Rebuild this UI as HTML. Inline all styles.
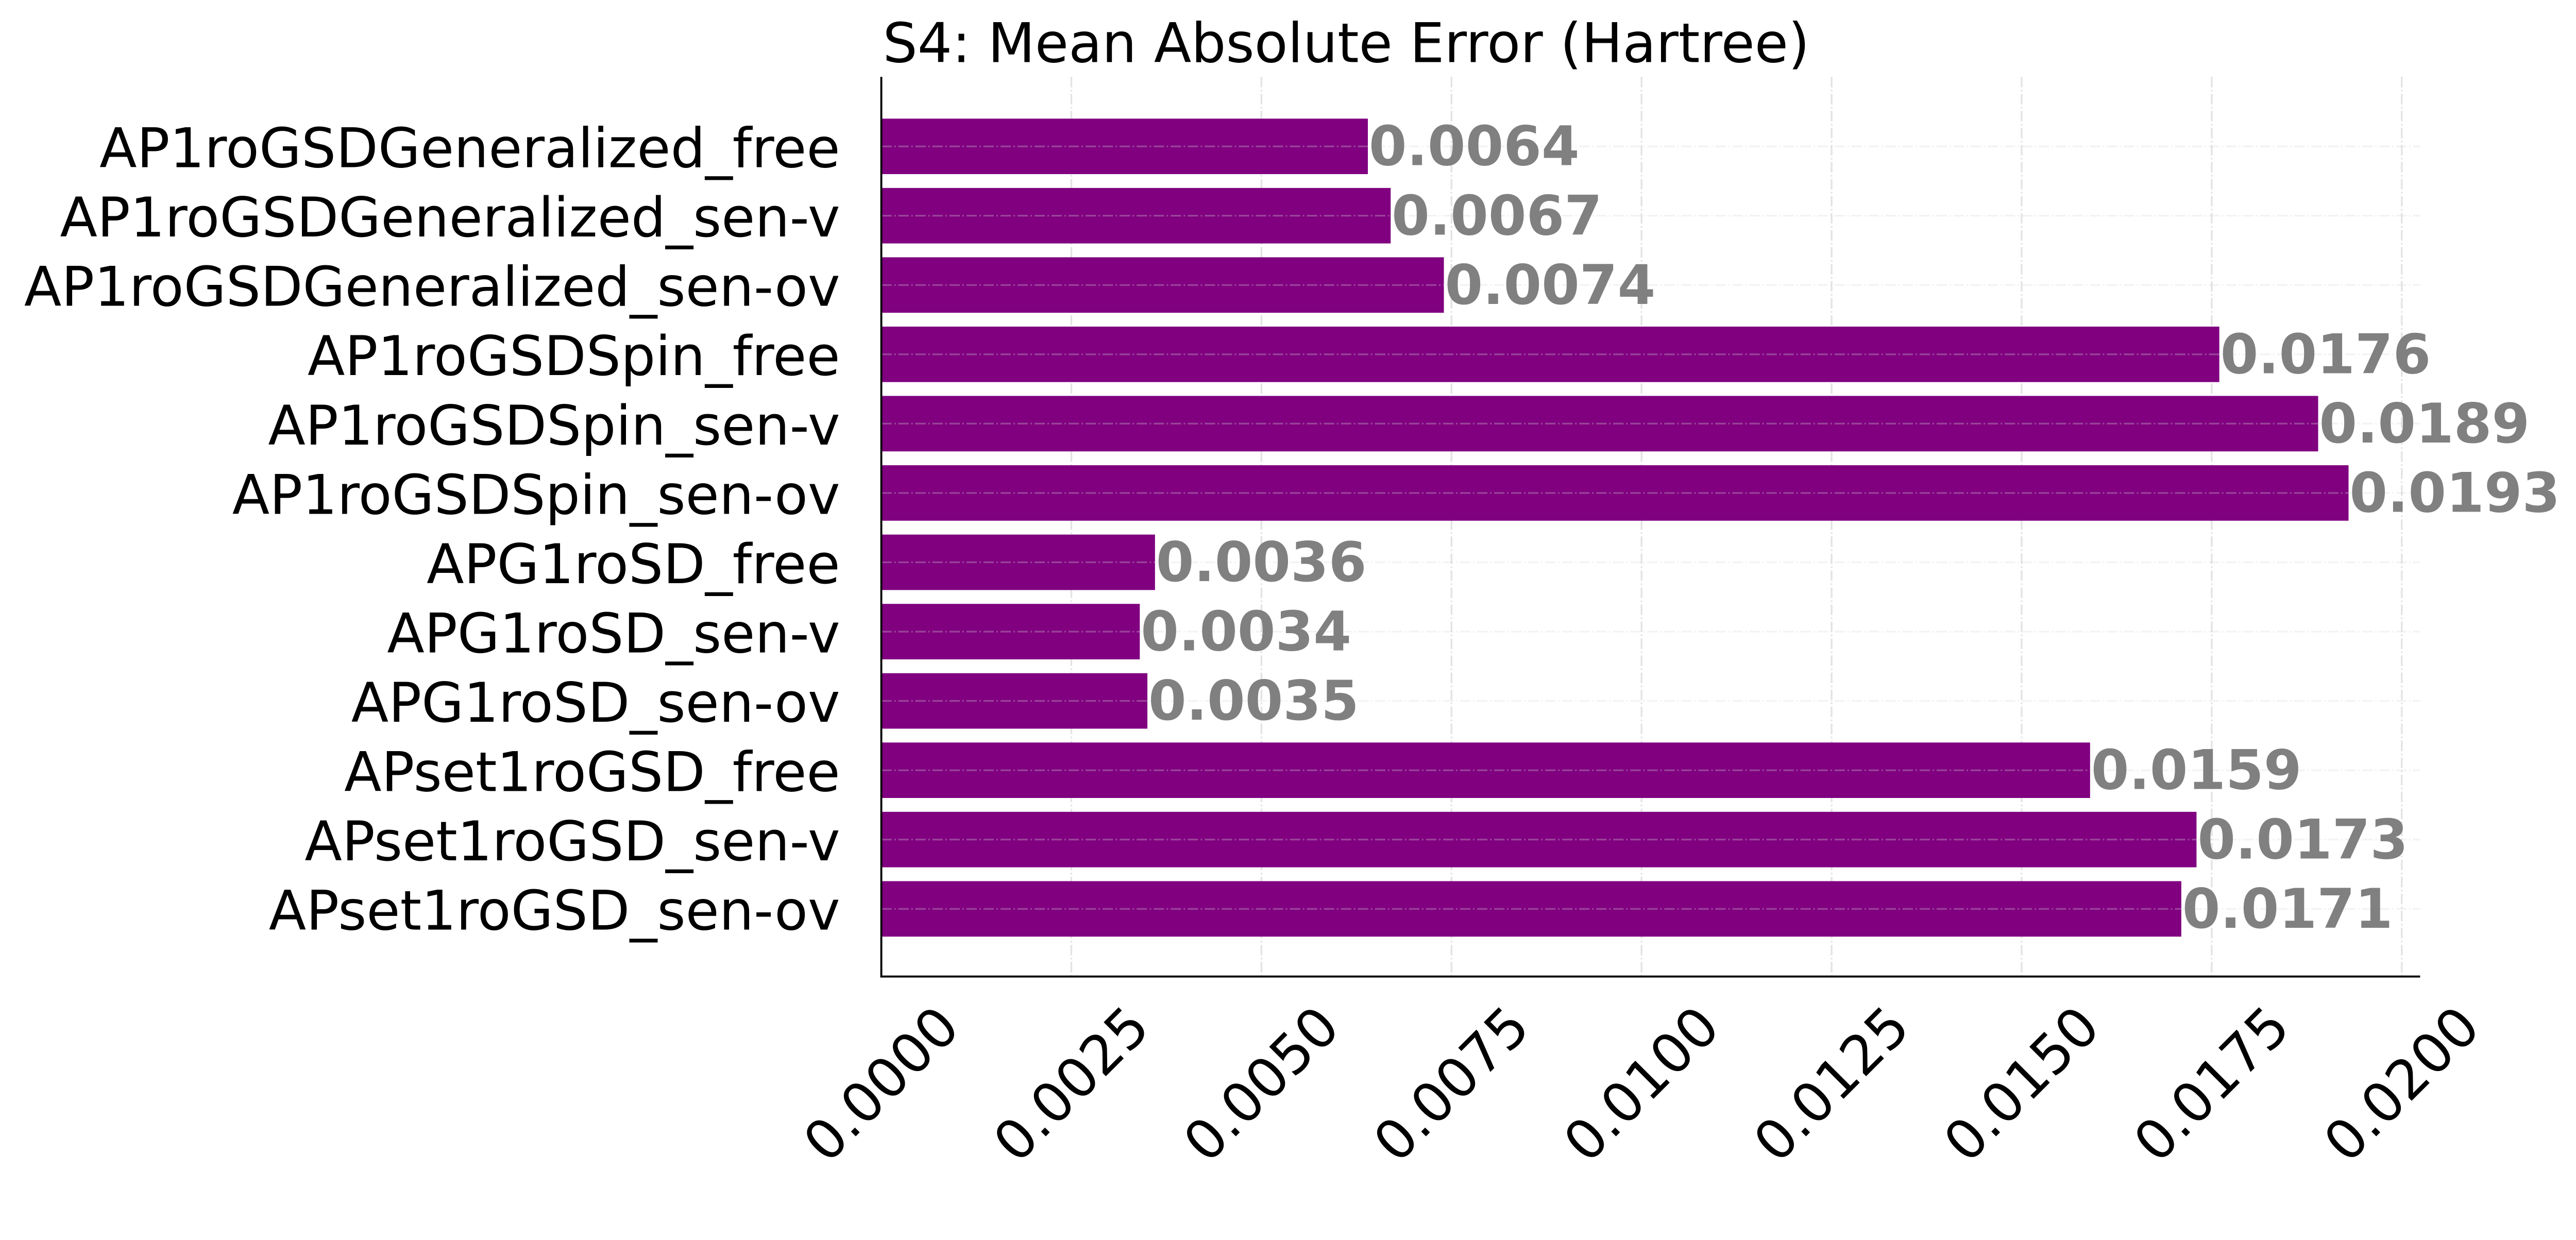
<!DOCTYPE html>
<html><head><meta charset="utf-8"><style>
html,body{margin:0;padding:0;background:#fff;overflow:hidden;}
svg{display:block;}
text{font-family:"DejaVu Sans","Liberation Sans",sans-serif;}
</style></head><body>
<svg id="chart" width="5196" height="2407" viewBox="0 0 5394 2499" preserveAspectRatio="xMinYMin meet" xmlns="http://www.w3.org/2000/svg">
<text x="1779" y="125" font-size="110" fill="#000">S4: Mean Absolute Error (Hartree)</text>
<g id="grid"></g><g id="bars"></g><g id="hgrid"></g><g id="labels"></g><g id="ticks"></g>
<line x1="1776" y1="155" x2="1776" y2="1970" stroke="#000" stroke-width="4"/>
<line x1="1774" y1="1968" x2="4877" y2="1968" stroke="#000" stroke-width="4"/>
</svg>
<script>
const categories = ["AP1roGSDGeneralized_free","AP1roGSDGeneralized_sen-v","AP1roGSDGeneralized_sen-ov","AP1roGSDSpin_free","AP1roGSDSpin_sen-v","AP1roGSDSpin_sen-ov","APG1roSD_free","APG1roSD_sen-v","APG1roSD_sen-ov","APset1roGSD_free","APset1roGSD_sen-v","APset1roGSD_sen-ov"];
const maeValues = [0.0064,0.0067,0.0074,0.0176,0.0189,0.0193,0.0036,0.0034,0.0035,0.0159,0.0173,0.0171];
const valueLabels = ["0.0064","0.0067","0.0074","0.0176","0.0189","0.0193","0.0036","0.0034","0.0035","0.0159","0.0173","0.0171"];
const xTicks = [0,0.0025,0.005,0.0075,0.01,0.0125,0.015,0.0175,0.02];
const xTickLabels = ["0.0000","0.0025","0.0050","0.0075","0.0100","0.0125","0.0150","0.0175","0.0200"];

const NS="http://www.w3.org/2000/svg";
const X0=1776, XS=153200, Y0=295, YP=139.7, BH=111.8, TOP=155, BOT=1968;
const xs=v=>X0+v*XS;
const ys=i=>Y0+i*YP;
function mk(tag,attrs,parent){const e=document.createElementNS(NS,tag);for(const k in attrs)e.setAttribute(k,attrs[k]);document.getElementById(parent).appendChild(e);return e;}
const dash="21 5 3.3 5";
xTicks.forEach((t,i)=>{
  const g=mk('line',{x1:xs(t),x2:xs(t),y1:TOP,y2:BOT,stroke:'#d8d8d8','stroke-width':3.5,'stroke-dasharray':dash,opacity:0.7},'grid');
  
  
  const tx=xs(t), ty=2185;
  const lb=mk('text',{x:tx,y:ty,'font-size':110,'text-anchor':'middle','dominant-baseline':'central',transform:`rotate(-45 ${tx} ${ty})`,fill:'#000'},'ticks');
  lb.textContent=xTickLabels[i];
  
  
});
categories.forEach((c,i)=>{
  const cy=ys(i);
  const b=mk('rect',{x:X0,y:cy-BH/2,width:xs(maeValues[i])-X0,height:BH,fill:'#800080'},'bars');
  
  
  const h=mk('line',{x1:X0,x2:4877,y1:cy,y2:cy,stroke:'#d8d8d8','stroke-width':3.5,'stroke-dasharray':dash,opacity:0.3},'hgrid');
  
  
  const v=mk('text',{x:xs(maeValues[i])+2,y:cy+38,'font-size':110,'font-weight':'bold',fill:'#808080'},'labels');
  v.textContent=valueLabels[i];
  
  
  const l=mk('text',{x:1693,y:cy+42,'font-size':110,'text-anchor':'end',fill:'#000'},'ticks');
  l.textContent=c;
  
  
});
</script>
</body></html>
